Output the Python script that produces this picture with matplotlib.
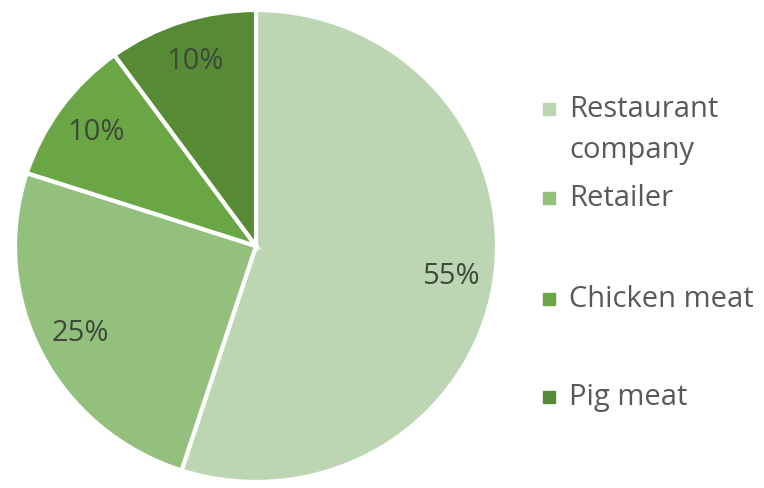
import matplotlib.pyplot as plt

labels = ['Restaurant\ncompany', 'Retailer', 'Chicken meat', 'Pig meat']
shares = [55, 25, 10, 10]
colors = ['#bcd6b3', '#94c07e', '#6aa744', '#578a35']

plt.rcParams['font.family'] = ['Open Sans', 'DejaVu Sans']

fig = plt.figure(figsize=(7.64, 4.88), dpi=100)
# pie box in pixels: x 15..497, y 10..482 (reference is slightly stretched)
ax = fig.add_axes([15 / 764, 1 - 482 / 488, 482 / 764, 472 / 488])

wedges, texts, autotexts = ax.pie(
    shares, colors=colors, startangle=90, counterclock=False,
    autopct='%d%%', pctdistance=0.82, radius=1.0,
    wedgeprops=dict(edgecolor='white', linewidth=3),
    textprops=dict(color='#3d4a38', fontsize=21))
ax.set_xlim(-1, 1)
ax.set_ylim(-1, 1)
ax.set_aspect('auto')

# legend drawn by hand to keep Excel's uneven spacing
legend_y = [109, 198, 299, 397]
for lab, col, y in zip(labels, colors, legend_y):
    yf = 1 - y / 488
    fig.patches.append(plt.Rectangle((543 / 764, yf - 6 / 488), 12 / 764, 12 / 488,
                                     transform=fig.transFigure, color=col))
    fig.text(569 / 764, yf + 14 / 488, lab, va='top', ha='left',
             fontsize=21, color='#595959', linespacing=1.55)

fig.savefig('out.png', dpi=100)
